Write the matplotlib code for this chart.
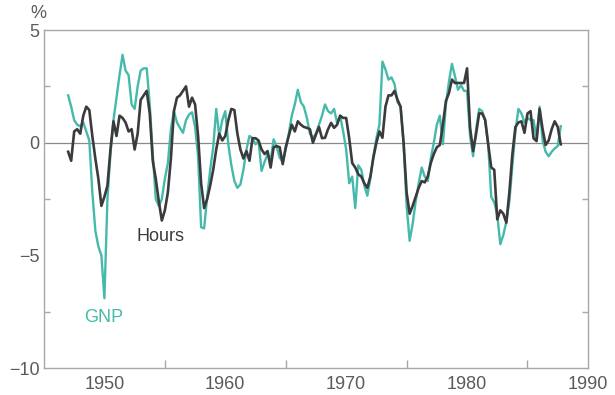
import numpy as np
import matplotlib
matplotlib.use("Agg")
import matplotlib.pyplot as plt
from matplotlib.ticker import FixedLocator

# Quarterly deviations from trend, 1947Q1 - 1987Q4 (percent).
start_year = 1947
gnp = [
    2.1, 1.6, 1.0, 0.8,        # 1947
    0.73, 0.9, 0.5, 0.1,       # 1948
    -2.2, -3.9, -4.6, -5.0,    # 1949
    -6.9, -2.5, -0.5, 1.0,     # 1950
    2.0, 3.0, 3.9, 3.2,        # 1951
    3.0, 1.7, 1.5, 2.5,        # 1952
    3.2, 3.3, 3.3, 1.7,        # 1953
    -0.5, -2.5, -2.8, -2.5,    # 1954
    -1.6, -0.9, 0.6, 1.4,      # 1955
    0.9, 0.66, 0.44, 1.0,      # 1956
    1.25, 1.35, 0.7, -0.6,     # 1957
    -3.75, -3.8, -2.4, -1.2,   # 1958
    -0.2, 1.5, 0.3, 1.0,       # 1959
    1.4, -0.07, -1.0, -1.7,    # 1960
    -2.0, -1.85, -1.2, -0.3,   # 1961
    0.3, 0.2, -0.07, 0.07,     # 1962
    -1.25, -0.85, -0.5, -0.8,  # 1963
    0.15, -0.2, -0.66, -0.85,  # 1964
    -0.3, 0.4, 1.2, 1.7,       # 1965
    2.35, 1.8, 1.6, 1.1,       # 1966
    0.4, 0.2, 0.4, 0.8,        # 1967
    1.2, 1.7, 1.4, 1.3,        # 1968
    1.5, 0.88, 1.2, 0.5,       # 1969
    -0.3, -1.8, -1.5, -2.9,    # 1970
    -1.0, -1.2, -1.9, -2.35,   # 1971
    -1.6, -0.6, 0.2, 0.8,      # 1972
    3.6, 3.25, 2.8, 2.9,       # 1973
    2.6, 1.8, 1.6, 0.0,        # 1974
    -2.8, -4.35, -3.6, -2.6,   # 1975
    -1.8, -1.1, -1.5, -1.7,    # 1976
    -0.7, 0.0, 0.8, 1.2,       # 1977
    -0.07, 1.7, 2.7, 3.5,      # 1978
    2.95, 2.35, 2.55, 2.3,     # 1979
    2.3, 0.3, -0.6, 0.6,       # 1980
    1.5, 1.4, 1.0, -0.1,       # 1981
    -2.4, -2.65, -3.2, -4.5,   # 1982
    -4.1, -3.5, -2.6, -1.0,    # 1983
    0.5, 1.5, 1.3, 0.9,        # 1984
    1.1, 1.0, 1.0, 0.2,        # 1985
    1.6, 0.1, -0.4, -0.6,      # 1986
    -0.4, -0.25, -0.15, 0.73,  # 1987
]
hours = [
    -0.4, -0.8, 0.5, 0.6,      # 1947
    0.4, 1.2, 1.6, 1.45,       # 1948
    0.3, -0.7, -1.6, -2.8,     # 1949
    -2.4, -1.9, -0.3, 0.95,    # 1950
    0.3, 1.2, 1.1, 0.9,        # 1951
    0.5, 0.6, -0.3, 0.4,       # 1952
    1.9, 2.1, 2.3, 1.3,        # 1953
    -0.8, -1.6, -2.6, -3.45,   # 1954
    -3.0, -2.2, -0.7, 1.4,     # 1955
    2.0, 2.1, 2.3, 2.5,        # 1956
    1.6, 2.0, 1.7, 0.3,        # 1957
    -1.8, -2.9, -2.5, -1.9,    # 1958
    -1.2, -0.3, 0.4, 0.1,      # 1959
    0.3, 1.0, 1.5, 1.45,       # 1960
    0.4, -0.3, -0.7, -0.37,    # 1961
    -0.8, 0.2, 0.2, 0.1,       # 1962
    -0.3, -0.5, -0.37, -1.1,   # 1963
    -0.2, -0.15, -0.2, -0.95,  # 1964
    -0.2, 0.3, 0.8, 0.5,       # 1965
    0.95, 0.8, 0.7, 0.66,      # 1966
    0.6, 0.0, 0.37, 0.7,       # 1967
    0.2, 0.22, 0.6, 0.88,      # 1968
    0.66, 0.8, 1.2, 1.1,       # 1969
    1.1, 0.2, -0.9, -1.1,      # 1970
    -1.4, -1.5, -1.8, -2.0,    # 1971
    -1.5, -0.66, 0.0, 0.5,     # 1972
    0.22, 1.6, 2.1, 2.1,       # 1973
    2.3, 1.9, 1.6, 0.0,        # 1974
    -2.2, -3.15, -2.8, -2.4,   # 1975
    -2.0, -1.7, -1.76, -1.5,   # 1976
    -0.9, -0.5, -0.2, -0.1,    # 1977
    0.8, 1.85, 2.2, 2.8,       # 1978
    2.65, 2.65, 2.65, 2.65,    # 1979
    3.3, 0.66, -0.37, 0.4,     # 1980
    1.3, 1.3, 1.0, -0.07,      # 1981
    -1.1, -1.2, -3.4, -3.0,    # 1982
    -3.15, -3.55, -2.2, -0.5,  # 1983
    0.7, 0.9, 0.95, 0.44,      # 1984
    1.3, 1.4, 0.2, 0.07,       # 1985
    1.5, 0.6, -0.1, 0.1,       # 1986
    0.6, 0.95, 0.7, -0.07,     # 1987
]
quarters = start_year + np.arange(len(gnp)) / 4.0

teal = "#45b9aa"
dark = "#3b3b3d"
axis_grey = "#a8a8a8"
text_grey = "#5a5a5a"

plt.rcParams["font.family"] = ["Liberation Sans", "DejaVu Sans"]

fig = plt.figure(figsize=(6.15, 3.95), dpi=100)
ax = fig.add_axes([0.0715, 0.068, 0.8845, 0.856])

ax.axhline(0, color="#8a8a8a", lw=0.9, zorder=1)
ax.plot(quarters, gnp, color=teal, lw=1.7, zorder=2)
ax.plot(quarters, hours, color=dark, lw=1.9, zorder=3)

ax.set_xlim(1945, 1990)
ax.set_ylim(-10, 5)

for side in ["left", "right", "top", "bottom"]:
    ax.spines[side].set_color(axis_grey)
    ax.spines[side].set_linewidth(1.0)

# y ticks every 2.5 on both sides, labels only on multiples of 5
ax.yaxis.set_major_locator(FixedLocator([-10, -5, 0, 5]))
ax.yaxis.set_minor_locator(FixedLocator([-7.5, -2.5, 2.5]))
ax.set_yticklabels(["\u221210", "\u22125", "0", "5"])
ax.tick_params(axis="y", which="both", direction="in", left=True, right=True,
               width=1.0, color=axis_grey, labelsize=13,
               labelcolor=text_grey, pad=3)
ax.tick_params(axis="y", which="major", length=0)
ax.tick_params(axis="y", which="minor", length=4)

# x ticks every 5 years inside, labels every 10
ax.xaxis.set_major_locator(FixedLocator([1950, 1960, 1970, 1980, 1990]))
ax.xaxis.set_minor_locator(FixedLocator([1950, 1955, 1960, 1965, 1970, 1975, 1980, 1985]))
ax.tick_params(axis="x", which="major", length=0, labelsize=13,
               labelcolor=text_grey, pad=6)
ax.tick_params(axis="x", which="minor", direction="in", length=6,
               width=1.0, color=axis_grey)

fig.text(0.062, 0.965, "%", ha="center", va="center", fontsize=13, color=text_grey)

ax.text(1954.6, -4.15, "Hours", ha="center", va="center", fontsize=13, color=dark)
ax.text(1949.9, -7.75, "GNP", ha="center", va="center", fontsize=13, color=teal)

fig.savefig("out.png", dpi=100)
